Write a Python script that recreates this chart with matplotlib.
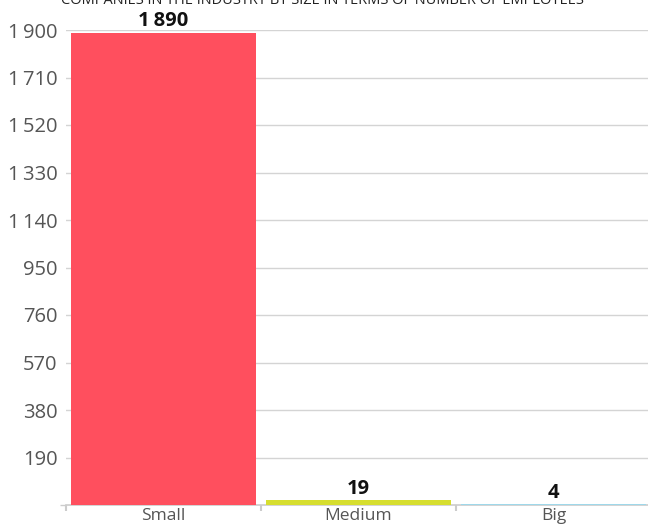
import matplotlib
matplotlib.use("Agg")
import matplotlib.pyplot as plt
from matplotlib.ticker import FixedLocator

categories = ["Small", "Medium", "Big"]
values = [1890, 19, 4]
colors = ["#FF4F5E", "#D6DE2F", "#9FD8EA"]
yticks = [190, 380, 570, 760, 950, 1140, 1330, 1520, 1710, 1900]
title = "COMPANIES IN THE INDUSTRY BY SIZE IN TERMS OF NUMBER OF EMPLOYEES"

def fmt(v):
    s = f"{v:,}"
    return s.replace(",", "\u2009")

plt.rcParams['font.family'] = ['Open Sans', 'DejaVu Sans']

W, H = 648, 527
fig = plt.figure(figsize=(W / 100, H / 100), dpi=100)
left, right = 66 / W, 651 / W
bottom, top = 1 - 505 / H, 1 - 30 / H
ax = fig.add_axes([left, bottom, right - left, top - bottom])

x = list(range(len(categories)))
ax.bar(x, values, width=0.945, color=colors, zorder=3)
ax.set_xlim(-0.5, len(categories) - 0.5)
ax.set_ylim(0, 1900)

for xi, v in zip(x, values):
    ax.text(xi, v + 26, fmt(v), ha='center', va='baseline', fontsize=14.5,
            fontweight='bold', color='#111111')

ax.set_yticks(yticks)
ax.set_yticklabels([fmt(t) for t in yticks])
ax.yaxis.set_minor_locator(FixedLocator([0]))
ax.tick_params(axis='y', which='minor', length=4, color='#cccccc', width=1)
ax.tick_params(axis='y', which='major', length=0, pad=6, labelsize=14.5,
               labelcolor='#555555')
ax.grid(axis='y', color='#d4d4d4', linewidth=1, zorder=0)

ax.set_xticks(x)
ax.set_xticklabels(categories)
ax.xaxis.set_minor_locator(FixedLocator([-0.5 + i for i in range(len(categories))]))
ax.tick_params(axis='x', which='major', length=0, pad=2, labelsize=12.5,
               labelcolor='#555555')
ax.tick_params(axis='x', which='minor', length=4, color='#cccccc', width=1.5)

for s in ['top', 'right', 'left']:
    ax.spines[s].set_visible(False)
ax.spines['bottom'].set_color('#cccccc')
ax.spines['bottom'].set_linewidth(1.2)

fig.text(322 / W, 1 - 4 / H, title, ha='center', va='baseline', fontsize=10.5,
         color='#222222')

fig.savefig("out.png", dpi=100)
